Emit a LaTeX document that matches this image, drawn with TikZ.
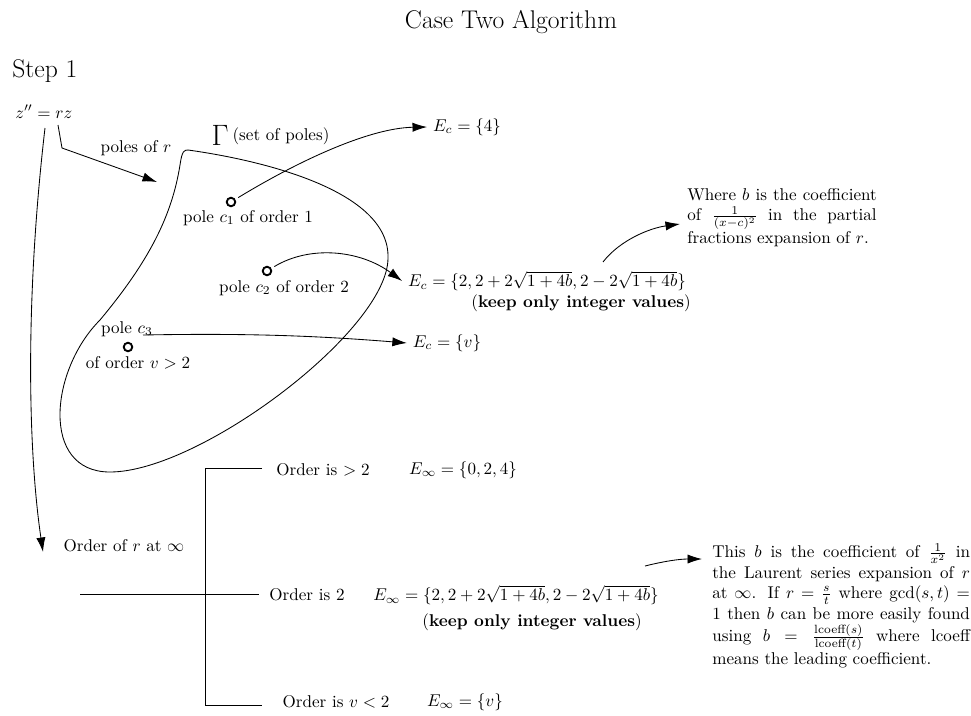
\documentclass[tikz,border=0pt]{standalone}
\usepackage{amsmath}
\usetikzlibrary{arrows.meta}
\begin{document}
\begin{tikzpicture}[x=0.0206cm,y=-0.0206cm,
  arr/.style={-{Latex[length=8.5pt,width=5.4pt]}, line width=0.5pt},
  ln/.style={line width=0.5pt},
  polemark/.style={circle,draw,line width=1.1pt,minimum size=5pt,inner sep=0pt,outer sep=2.5pt},
  bigtxt/.style={font=\fontsize{15}{18}\selectfont},
  notebox/.style={anchor=north west,inner sep=0pt,align=justify}]
\useasboundingbox (0,0) rectangle (971,715);

% headings
\node[bigtxt,anchor=base] (title) at (511,28) {Case Two Algorithm};
\node[bigtxt,anchor=base west,inner sep=0pt] (step) at (12,77) {Step 1};
\node[anchor=base west,inner sep=0pt] (zz) at (15,118) {$z''=rz$};

% the set of poles
\draw[ln] (188,150) .. controls (260,160) and (390,190) .. (388,258)
  .. controls (388,330) and (200,472) .. (110,472)
  .. controls (40,472) and (50,370) .. (100,320)
  .. controls (150,260) and (172,215) .. (180,165)
  .. controls (182,151) and (184,150) .. cycle;
\node (gam) at (220,135) {\LARGE$\Gamma$};
\node (gaml) at (281,136) {(set of poles)};

% poles of r arrow
\coordinate (zs) at (58,125);
\coordinate (zk) at (62,148);
\coordinate (pe) at (157,182);
\draw[arr] (zs) -- (zk) -- (pe);
\node (polesr) at (136,148) {poles of $r$};

% order at infinity arrow
\coordinate (zl) at (45,128);
\coordinate (ze) at (43,552);
\draw[arr] (zl) .. controls (25,300) and (28,450) .. (ze);
\node (oinf) at (124,546) {Order of $r$ at $\infty$};

% poles
\node[polemark] (c1) at (231,202) {};
\node (c1l) at (248,218) {pole $c_1$ of order 1};
\node[polemark] (c2) at (267,271) {};
\node (c2l) at (284,288) {pole $c_2$ of order 2};
\node[polemark] (c3) at (128,347) {};
\node (c3l) at (127,329) {pole $c_3$};
\node (c3m) at (138,363) {of order $v>2$};

% exponent sets at poles
\node (Ec4) at (467,127) {$E_c=\{4\}$};
\node (Ec2) at (547,281) {$E_c=\{2,2+2\sqrt{1+4b},2-2\sqrt{1+4b}\}$};
\node (Ec2k) at (581,303) {(\textbf{keep only integer values})};
\node (Ecv) at (447,343) {$E_c=\{v\}$};

\draw[arr] (c1) .. controls (300,160) and (370,128) .. (Ec4.west);
\draw[arr] (c2) .. controls (310,245) and (360,250) .. (Ec2.west);
\coordinate (c3out) at (143,335);
\draw[arr] (c3out) .. controls (250,333) and (320,336) .. (Ecv.west);

% note A
\node[notebox,text width=111pt] (noteA) at (687,188)
  {Where $b$ is the coefficient\linebreak of $\frac{1}{(x-c)^2}$ in the partial\linebreak fractions expansion of $r$.};
\coordinate (n1s) at (603,262);
\coordinate (n1e) at (680,224);
\draw[arr] (n1s) .. controls (620,240) and (650,228) .. (n1e);

% order at infinity branches
\node (o1) at (323,470) {Order is $>2$};
\node (o2) at (307,595) {Order is 2};
\node (o3) at (336,702) {Order is $v<2$};
\node (Ei1) at (463,470) {$E_\infty=\{0,2,4\}$};
\node (Ei2) at (516,595) {$E_\infty=\{2,2+2\sqrt{1+4b},2-2\sqrt{1+4b}\}$};
\node (Ei2k) at (532,622) {(\textbf{keep only integer values})};
\node (Ei3) at (465,702) {$E_\infty=\{v\}$};

\coordinate (bt1) at (262,468);
\coordinate (bt0) at (205,468);
\coordinate (bb0) at (205,705);
\coordinate (bb1) at (262,705);
\coordinate (bm0) at (80,594);
\coordinate (bm1) at (259,594);
\draw[ln] (bt1) -- (bt0) -- (bb0) -- (bb1);
\draw[ln] (bm0) -- (bm1);

% note B
\node[notebox,text width=151pt] (noteB) at (712,543)
  {This $b$ is the coefficient of $\frac{1}{x^2}$ in\linebreak the Laurent series expansion of $r$\linebreak at $\infty$. If $r=\frac{s}{t}$ where $\gcd(s,t)=$\linebreak 1 then $b$ can be more easily found\linebreak using $b=\frac{\text{lcoeff}(s)}{\text{lcoeff}(t)}$ where lcoeff\linebreak means the leading coefficient.};
\coordinate (n2s) at (645,566);
\coordinate (n2e) at (702,559);
\draw[arr] (n2s) .. controls (665,561) and (680,559) .. (n2e);
\end{tikzpicture}
\end{document}
